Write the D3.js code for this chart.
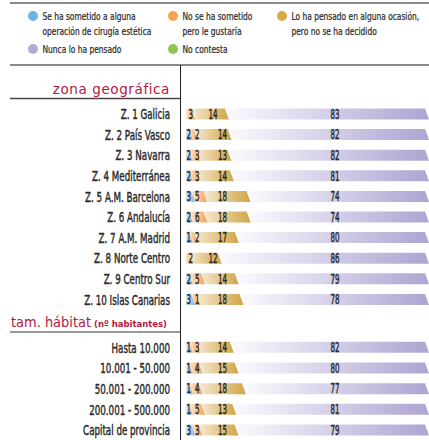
<!DOCTYPE html>
<html>
<head>
<meta charset="utf-8">
<script src="https://cdn.jsdelivr.net/npm/d3@7"></script>
<style>
  body { margin: 0; background: #fff; }
  svg { display: block; }
  .cond { font-family: "Liberation Sans Narrow", "DejaVu Sans Condensed", sans-serif; }
  .head { font-family: "DejaVu Sans", sans-serif; fill: #b5163f; }
</style>
</head>
<body>
<div id="vis"></div>
<script>
// categories
var zonas = ["Z. 1 Galicia", "Z. 2 País Vasco", "Z. 3 Navarra", "Z. 4 Mediterránea",
  "Z. 5 A.M. Barcelona", "Z. 6 Andalucía", "Z. 7 A.M. Madrid", "Z. 8 Norte Centro",
  "Z. 9 Centro Sur", "Z. 10 Islas Canarias"];
var habitat = ["Hasta 10.000", "10.001 - 50.000", "50.001 - 200.000",
  "200.001 - 500.000", "Capital de provincia"];

// series (%), zona geográfica
var zSometido   = [0, 2, 2, 2, 3, 2, 1, 0, 2, 3];
var zNoGustaria = [3, 2, 3, 3, 5, 6, 2, 2, 5, 1];
var zPensado    = [14, 14, 13, 14, 18, 18, 17, 12, 14, 18];
var zNunca      = [83, 82, 82, 81, 74, 74, 80, 86, 79, 78];

// series (%), tamaño de hábitat
var hSometido   = [1, 1, 1, 1, 3];
var hNoGustaria = [3, 4, 4, 5, 3];
var hPensado    = [14, 15, 18, 13, 15];
var hNunca      = [82, 80, 77, 81, 79];

var legendLabels = [
  ["Se ha sometido a alguna", "operación de cirugía estética"],
  ["No se ha sometido", "pero le gustaría"],
  ["Lo ha pensado en alguna ocasión,", "pero no se ha decidido"],
  ["Nunca lo ha pensado"],
  ["No contesta"]
];

var width = 429, height = 440;
var colors = ["#6db4e3", "#f7a24c", "#d8ab42", "#b4aad6", "#8dc655"];
var gradStops = [
  ["#d4e6f5", "#84b6e0"],
  ["#fde8d2", "#f6a255"],
  ["#f5ead3", "#d2a445"],
  ["#fbfbfe", "#ada4d2"]
];

var svg = d3.select("#vis").append("svg")
  .attr("width", width).attr("height", height);

// horizontal squeeze so whatever condensed font is found matches the narrow type
function fitScale(sample, size, weight, target) {
  var t = svg.append("text").attr("class", "cond")
    .attr("font-size", size).attr("font-weight", weight).text(sample);
  var w = t.node().getComputedTextLength();
  t.remove();
  return target / w;
}
var sLab = fitScale("Capital de provincia", 14.5, "normal", 87);
var sVal = fitScale("14", 13.5, "normal", 9);
var sLeg = fitScale("operación de cirugía estética", 10.5, "normal", 109);

var defs = svg.append("defs");
gradStops.forEach(function (g, i) {
  var lg = defs.append("linearGradient").attr("id", "g" + i)
    .attr("x1", 0).attr("x2", 1).attr("y1", 0).attr("y2", 0);
  lg.append("stop").attr("offset", "0%").attr("stop-color", g[0]);
  lg.append("stop").attr("offset", "100%").attr("stop-color", g[1]);
});

// frame lines
svg.append("line").attr("x1", 10).attr("x2", width).attr("y1", 3).attr("y2", 3)
  .attr("stroke", "#8a8a8a").attr("stroke-width", 2);
svg.append("line").attr("x1", 10).attr("x2", width).attr("y1", 65).attr("y2", 65)
  .attr("stroke", "#8a8a8a").attr("stroke-width", 2);
svg.append("line").attr("x1", 180.5).attr("x2", 180.5).attr("y1", 65).attr("y2", height)
  .attr("stroke", "#222").attr("stroke-width", 1);

// legend
var legX = [33, 173, 282];
legendLabels.forEach(function (lines, i) {
  var cx = legX[i % 3], cy = i < 3 ? 16 : 49;
  svg.append("circle").attr("cx", cx).attr("cy", cy).attr("r", 5).attr("fill", colors[i]);
  var t = svg.append("text").attr("class", "cond")
    .attr("transform", "translate(" + (cx + 9.5) + "," + (cy + 3.8) + ") scale(" + sLeg + ",1)")
    .attr("font-size", 10.5).attr("fill", "#2e2e2e")
    .attr("stroke", "#2e2e2e").attr("stroke-width", 0.25);
  lines.forEach(function (l, j) {
    t.append("tspan").attr("x", 0).attr("dy", j ? 15 : 0).text(l);
  });
});

// scales
var x = d3.scaleLinear().domain([0, 100]).range([186, 427]);
var barH = 11, slant = 4, minW = 5;

function drawGroup(cats, series, yRange) {
  var y = d3.scalePoint().domain(cats).range(yRange);

  svg.append("g").selectAll("text").data(cats).join("text")
    .attr("class", "cond")
    .attr("transform", function (d) { return "translate(170," + (y(d) + 5.2) + ") scale(" + sLab + ",1)"; })
    .attr("text-anchor", "end")
    .attr("font-size", 14.5).attr("fill", "#2b2b2b")
    .attr("stroke", "#2b2b2b").attr("stroke-width", 0.45)
    .text(function (d) { return d; });

  cats.forEach(function (c, r) {
    var vals = series.map(function (s) { return s[r]; });
    var y0 = y(c) - barH / 2, y1 = y(c) + barH / 2;
    // segment positions (small segments get a minimum width)
    var pos = x(0), segs = [];
    vals.forEach(function (v, k) {
      if (!v) return;
      var w = k === 3 ? x(100) - pos : Math.max(x(v) - x(0), minW);
      segs.push({ k: k, v: v, a: pos, b: pos + w });
      pos += w;
    });
    var g = svg.append("g");
    g.selectAll("polygon").data(segs).join("polygon")
      .attr("points", function (d, i) {
        var la = i === 0 ? d.a : d.a - slant / 2, lb = i === 0 ? d.a : d.a + slant / 2;
        return [[la, y0], [d.b - slant / 2, y0], [d.b + slant / 2, y1], [lb, y1]].join(" ");
      })
      .attr("fill", function (d) { return "url(#g" + d.k + ")"; });

    // value labels
    var hasBlue = vals[0] > 0;
    g.selectAll("text").data(segs).join("text")
      .attr("class", "cond")
      .attr("transform", function (d) {
        var lx;
        if (d.k === 0) lx = x(0) + 0.5;
        else if (d.k === 1) lx = x(0) + (hasBlue ? 9 : 2.5);
        else if (d.k === 2) lx = x(0) + (hasBlue ? 32 : 22.5);
        else lx = x(62) - 5;
        return "translate(" + lx + "," + (y(c) + 4.8) + ") scale(" + sVal + ",1)";
      })
      .attr("font-size", 13.5).attr("fill", "#2a2a2a")
      .attr("stroke", "#2a2a2a").attr("stroke-width", 0.45)
      .text(function (d) { return d.v; });
  });
}

// section headers
svg.append("text").attr("class", "head")
  .attr("x", 170).attr("y", 94).attr("text-anchor", "end")
  .attr("font-size", 13.5).attr("letter-spacing", 0.6)
  .text("zona geográfica");
svg.append("line").attr("x1", 10).attr("x2", 180).attr("y1", 98.5).attr("y2", 98.5)
  .attr("stroke", "#444").attr("stroke-width", 1.3);

var h2 = svg.append("text").attr("class", "head").attr("x", 11).attr("y", 327)
  .attr("font-size", 13.5);
h2.append("tspan").attr("textLength", 80).attr("lengthAdjust", "spacingAndGlyphs").text("tam. hábitat");
h2.append("tspan").attr("x", 94).attr("font-size", 8.5).attr("font-weight", "bold")
  .attr("textLength", 73).attr("lengthAdjust", "spacingAndGlyphs").text("(nº habitantes)");
svg.append("line").attr("x1", 10).attr("x2", 180).attr("y1", 332).attr("y2", 332)
  .attr("stroke", "#777").attr("stroke-width", 1.5);

drawGroup(zonas, [zSometido, zNoGustaria, zPensado, zNunca], [114, 299.4]);
drawGroup(habitat, [hSometido, hNoGustaria, hPensado, hNunca], [347.3, 430]);
</script>
</body>
</html>
